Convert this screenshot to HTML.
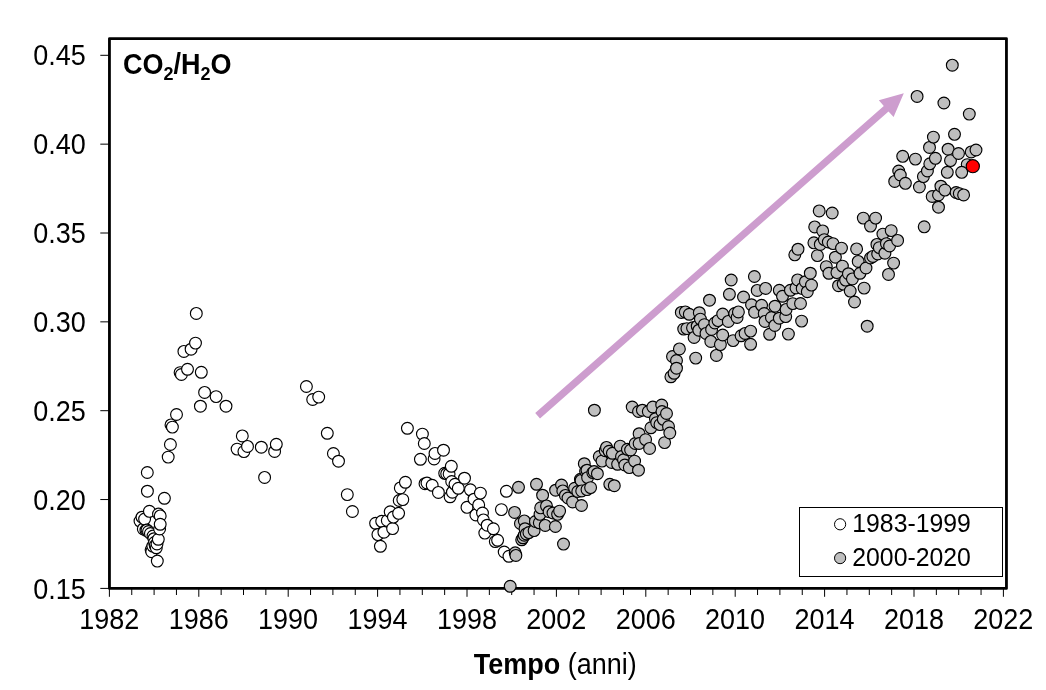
<!DOCTYPE html>
<html><head><meta charset="utf-8"><title>CO2/H2O</title>
<style>
html,body{margin:0;padding:0;background:#fff;}
body{width:1046px;height:690px;overflow:hidden;font-family:"Liberation Sans",sans-serif;}
svg{display:block;will-change:transform;}
text{font-family:"Liberation Sans",sans-serif;fill:#000;}
.w{fill:#fff;stroke:#000;stroke-width:1.15;}
.g{fill:#bfbfbf;stroke:#000;stroke-width:1.15;}
</style></head><body>
<svg width="1046" height="690" viewBox="0 0 1046 690">
<rect x="0" y="0" width="1046" height="690" fill="#fff"/>
<path d="M109.40 588V596.8 M131.75 588V595.0 M154.10 588V595.0 M176.45 588V595.0 M198.80 588V596.8 M221.15 588V595.0 M243.50 588V595.0 M265.85 588V595.0 M288.20 588V596.8 M310.55 588V595.0 M332.90 588V595.0 M355.25 588V595.0 M377.60 588V596.8 M399.95 588V595.0 M422.30 588V595.0 M444.65 588V595.0 M467.00 588V596.8 M489.35 588V595.0 M511.70 588V595.0 M534.05 588V595.0 M556.40 588V596.8 M578.75 588V595.0 M601.10 588V595.0 M623.45 588V595.0 M645.80 588V596.8 M668.15 588V595.0 M690.50 588V595.0 M712.85 588V595.0 M735.20 588V596.8 M757.55 588V595.0 M779.90 588V595.0 M802.25 588V595.0 M824.60 588V596.8 M846.95 588V595.0 M869.30 588V595.0 M891.65 588V595.0 M914.00 588V596.8 M936.35 588V595.0 M958.70 588V595.0 M981.05 588V595.0 M1003.40 588V596.8 M100.3 588.40H109 M100.3 499.55H109 M100.3 410.70H109 M100.3 321.85H109 M100.3 233.00H109 M100.3 144.15H109 M100.3 55.30H109" stroke="#000" stroke-width="1" fill="none"/>
<rect x="109.45" y="38.55" width="897" height="549.85" fill="none" stroke="#000" stroke-width="2.8" stroke-linejoin="round"/>
<text transform="translate(85.8 598.5) scale(1 1.06)" font-size="27" text-anchor="end" font-weight="normal">0.15</text>
<text transform="translate(85.8 509.6) scale(1 1.06)" font-size="27" text-anchor="end" font-weight="normal">0.20</text>
<text transform="translate(85.8 420.8) scale(1 1.06)" font-size="27" text-anchor="end" font-weight="normal">0.25</text>
<text transform="translate(85.8 331.9) scale(1 1.06)" font-size="27" text-anchor="end" font-weight="normal">0.30</text>
<text transform="translate(85.8 243.1) scale(1 1.06)" font-size="27" text-anchor="end" font-weight="normal">0.35</text>
<text transform="translate(85.8 154.2) scale(1 1.06)" font-size="27" text-anchor="end" font-weight="normal">0.40</text>
<text transform="translate(85.8 65.4) scale(1 1.06)" font-size="27" text-anchor="end" font-weight="normal">0.45</text>
<text transform="translate(109.3 629.0) scale(1 1.06)" font-size="27" text-anchor="middle" font-weight="normal">1982</text>
<text transform="translate(198.7 629.0) scale(1 1.06)" font-size="27" text-anchor="middle" font-weight="normal">1986</text>
<text transform="translate(288.1 629.0) scale(1 1.06)" font-size="27" text-anchor="middle" font-weight="normal">1990</text>
<text transform="translate(377.5 629.0) scale(1 1.06)" font-size="27" text-anchor="middle" font-weight="normal">1994</text>
<text transform="translate(466.9 629.0) scale(1 1.06)" font-size="27" text-anchor="middle" font-weight="normal">1998</text>
<text transform="translate(556.3 629.0) scale(1 1.06)" font-size="27" text-anchor="middle" font-weight="normal">2002</text>
<text transform="translate(645.7 629.0) scale(1 1.06)" font-size="27" text-anchor="middle" font-weight="normal">2006</text>
<text transform="translate(735.1 629.0) scale(1 1.06)" font-size="27" text-anchor="middle" font-weight="normal">2010</text>
<text transform="translate(824.5 629.0) scale(1 1.06)" font-size="27" text-anchor="middle" font-weight="normal">2014</text>
<text transform="translate(913.9 629.0) scale(1 1.06)" font-size="27" text-anchor="middle" font-weight="normal">2018</text>
<text transform="translate(1003.3 629.0) scale(1 1.06)" font-size="27" text-anchor="middle" font-weight="normal">2022</text>
<text transform="translate(555.3 673.6) scale(1 1.06)" font-size="27" text-anchor="middle" font-weight="normal"><tspan font-weight="bold">Tempo</tspan> (anni)</text>
<text transform="translate(123.0 73.8) scale(1 1.06)" font-size="27" text-anchor="start" font-weight="bold">CO<tspan font-size="18" dy="5.5">2</tspan><tspan dy="-5.5">/H</tspan><tspan font-size="18" dy="5.5">2</tspan><tspan dy="-5.5">O</tspan></text>
<polygon points="540.0,418.4 888.5,111.4 893.6,117.1 903.8,93.2 878.8,100.3 883.8,106.0 535.2,413.0" fill="#cd9dce"/>
<g class="w"><circle cx="140.0" cy="521.1" r="5.9"/><circle cx="142.0" cy="517.2" r="5.9"/><circle cx="143.3" cy="528.9" r="5.9"/><circle cx="144.6" cy="519.1" r="5.9"/><circle cx="145.9" cy="530.2" r="5.9"/><circle cx="147.0" cy="530.0" r="5.9"/><circle cx="147.3" cy="472.5" r="5.9"/><circle cx="147.4" cy="491.2" r="5.9"/><circle cx="148.5" cy="531.5" r="5.9"/><circle cx="149.4" cy="511.3" r="5.9"/><circle cx="150.4" cy="533.5" r="5.9"/><circle cx="151.1" cy="549.8" r="5.9"/><circle cx="151.7" cy="551.7" r="5.9"/><circle cx="152.8" cy="546.1" r="5.9"/><circle cx="153.0" cy="536.1" r="5.9"/><circle cx="153.9" cy="538.7" r="5.9"/><circle cx="154.5" cy="542.5" r="5.9"/><circle cx="155.2" cy="545.5" r="5.9"/><circle cx="156.3" cy="547.8" r="5.9"/><circle cx="157.0" cy="543.9" r="5.9"/><circle cx="157.3" cy="561.1" r="5.9"/><circle cx="158.3" cy="539.3" r="5.9"/><circle cx="158.5" cy="514.0" r="5.9"/><circle cx="159.6" cy="528.9" r="5.9"/><circle cx="160.2" cy="515.9" r="5.9"/><circle cx="160.2" cy="524.3" r="5.9"/><circle cx="164.4" cy="498.3" r="5.9"/><circle cx="168.2" cy="457.1" r="5.9"/><circle cx="170.4" cy="444.5" r="5.9"/><circle cx="171.0" cy="424.9" r="5.9"/><circle cx="172.4" cy="427.1" r="5.9"/><circle cx="176.5" cy="414.5" r="5.9"/><circle cx="180.1" cy="372.6" r="5.9"/><circle cx="181.4" cy="374.5" r="5.9"/><circle cx="183.9" cy="351.4" r="5.9"/><circle cx="187.5" cy="369.3" r="5.9"/><circle cx="191.1" cy="349.2" r="5.9"/><circle cx="195.5" cy="343.1" r="5.9"/><circle cx="196.3" cy="313.4" r="5.9"/><circle cx="200.4" cy="406.2" r="5.9"/><circle cx="201.3" cy="372.3" r="5.9"/><circle cx="204.6" cy="392.4" r="5.9"/><circle cx="216.1" cy="396.6" r="5.9"/><circle cx="226.0" cy="406.2" r="5.9"/><circle cx="237.1" cy="449.1" r="5.9"/><circle cx="242.3" cy="435.9" r="5.9"/><circle cx="243.9" cy="451.6" r="5.9"/><circle cx="247.5" cy="446.4" r="5.9"/><circle cx="261.3" cy="447.2" r="5.9"/><circle cx="264.6" cy="477.4" r="5.9"/><circle cx="274.6" cy="451.4" r="5.9"/><circle cx="276.3" cy="444.3" r="5.9"/><circle cx="306.4" cy="386.5" r="5.9"/><circle cx="312.7" cy="399.5" r="5.9"/><circle cx="318.7" cy="397.1" r="5.9"/><circle cx="327.3" cy="433.3" r="5.9"/><circle cx="333.4" cy="453.5" r="5.9"/><circle cx="338.5" cy="461.2" r="5.9"/><circle cx="347.3" cy="494.6" r="5.9"/><circle cx="352.4" cy="511.5" r="5.9"/><circle cx="375.6" cy="523.3" r="5.9"/><circle cx="377.9" cy="534.6" r="5.9"/><circle cx="380.4" cy="546.3" r="5.9"/><circle cx="381.7" cy="521.3" r="5.9"/><circle cx="383.9" cy="532.2" r="5.9"/><circle cx="387.3" cy="520.5" r="5.9"/><circle cx="390.2" cy="511.8" r="5.9"/><circle cx="392.6" cy="528.6" r="5.9"/><circle cx="393.4" cy="517.1" r="5.9"/><circle cx="398.6" cy="513.3" r="5.9"/><circle cx="399.2" cy="500.5" r="5.9"/><circle cx="400.3" cy="487.9" r="5.9"/><circle cx="402.8" cy="499.6" r="5.9"/><circle cx="405.4" cy="482.3" r="5.9"/><circle cx="407.4" cy="428.3" r="5.9"/><circle cx="420.4" cy="459.3" r="5.9"/><circle cx="422.4" cy="434.1" r="5.9"/><circle cx="424.3" cy="443.5" r="5.9"/><circle cx="425.0" cy="483.7" r="5.9"/><circle cx="427.0" cy="483.0" r="5.9"/><circle cx="432.2" cy="485.3" r="5.9"/><circle cx="434.1" cy="458.9" r="5.9"/><circle cx="435.0" cy="453.4" r="5.9"/><circle cx="438.4" cy="492.4" r="5.9"/><circle cx="443.5" cy="450.2" r="5.9"/><circle cx="444.7" cy="473.3" r="5.9"/><circle cx="446.7" cy="473.7" r="5.9"/><circle cx="449.1" cy="473.9" r="5.9"/><circle cx="450.1" cy="496.8" r="5.9"/><circle cx="451.3" cy="466.3" r="5.9"/><circle cx="451.7" cy="481.5" r="5.9"/><circle cx="452.4" cy="492.2" r="5.9"/><circle cx="455.0" cy="484.3" r="5.9"/><circle cx="458.3" cy="488.3" r="5.9"/><circle cx="464.5" cy="478.2" r="5.9"/><circle cx="467.0" cy="507.3" r="5.9"/><circle cx="470.4" cy="489.8" r="5.9"/><circle cx="474.0" cy="499.2" r="5.9"/><circle cx="475.9" cy="514.9" r="5.9"/><circle cx="478.7" cy="504.9" r="5.9"/><circle cx="480.4" cy="493.1" r="5.9"/><circle cx="482.5" cy="513.0" r="5.9"/><circle cx="483.4" cy="519.9" r="5.9"/><circle cx="484.8" cy="533.1" r="5.9"/><circle cx="487.2" cy="525.2" r="5.9"/><circle cx="493.4" cy="528.8" r="5.9"/><circle cx="495.3" cy="541.6" r="5.9"/><circle cx="497.6" cy="540.3" r="5.9"/><circle cx="501.4" cy="509.6" r="5.9"/><circle cx="504.2" cy="552.0" r="5.9"/><circle cx="506.4" cy="491.3" r="5.9"/><circle cx="508.9" cy="556.3" r="5.9"/></g>
<g class="g"><circle cx="510.2" cy="586.3" r="5.9"/><circle cx="514.6" cy="512.4" r="5.9"/><circle cx="515.2" cy="552.8" r="5.9"/><circle cx="515.9" cy="555.4" r="5.9"/><circle cx="518.5" cy="487.3" r="5.9"/><circle cx="520.4" cy="523.5" r="5.9"/><circle cx="521.7" cy="539.8" r="5.9"/><circle cx="523.0" cy="537.8" r="5.9"/><circle cx="524.3" cy="520.9" r="5.9"/><circle cx="524.3" cy="535.2" r="5.9"/><circle cx="525.0" cy="528.7" r="5.9"/><circle cx="526.3" cy="533.9" r="5.9"/><circle cx="528.9" cy="532.6" r="5.9"/><circle cx="534.1" cy="530.6" r="5.9"/><circle cx="535.4" cy="521.5" r="5.9"/><circle cx="536.5" cy="484.3" r="5.9"/><circle cx="539.3" cy="522.8" r="5.9"/><circle cx="540.0" cy="514.3" r="5.9"/><circle cx="540.7" cy="507.8" r="5.9"/><circle cx="542.6" cy="495.2" r="5.9"/><circle cx="545.2" cy="525.4" r="5.9"/><circle cx="546.5" cy="505.9" r="5.9"/><circle cx="549.1" cy="511.7" r="5.9"/><circle cx="553.0" cy="513.0" r="5.9"/><circle cx="555.4" cy="526.5" r="5.9"/><circle cx="555.6" cy="490.2" r="5.9"/><circle cx="557.6" cy="514.3" r="5.9"/><circle cx="559.6" cy="511.1" r="5.9"/><circle cx="561.5" cy="485.0" r="5.9"/><circle cx="562.8" cy="490.9" r="5.9"/><circle cx="563.5" cy="544.1" r="5.9"/><circle cx="565.4" cy="495.4" r="5.9"/><circle cx="568.0" cy="498.0" r="5.9"/><circle cx="572.6" cy="502.0" r="5.9"/><circle cx="574.6" cy="488.3" r="5.9"/><circle cx="577.8" cy="491.5" r="5.9"/><circle cx="580.4" cy="479.3" r="5.9"/><circle cx="581.1" cy="480.4" r="5.9"/><circle cx="581.5" cy="505.5" r="5.9"/><circle cx="581.7" cy="490.9" r="5.9"/><circle cx="584.3" cy="463.7" r="5.9"/><circle cx="585.6" cy="471.3" r="5.9"/><circle cx="587.0" cy="470.2" r="5.9"/><circle cx="587.0" cy="489.6" r="5.9"/><circle cx="587.6" cy="477.6" r="5.9"/><circle cx="590.6" cy="487.6" r="5.9"/><circle cx="592.8" cy="472.6" r="5.9"/><circle cx="594.1" cy="471.5" r="5.9"/><circle cx="594.4" cy="410.2" r="5.9"/><circle cx="597.4" cy="473.7" r="5.9"/><circle cx="599.3" cy="456.5" r="5.9"/><circle cx="602.0" cy="461.1" r="5.9"/><circle cx="605.2" cy="450.7" r="5.9"/><circle cx="606.5" cy="447.4" r="5.9"/><circle cx="609.1" cy="451.3" r="5.9"/><circle cx="609.8" cy="484.3" r="5.9"/><circle cx="611.7" cy="462.4" r="5.9"/><circle cx="612.4" cy="453.3" r="5.9"/><circle cx="614.3" cy="485.7" r="5.9"/><circle cx="617.6" cy="464.3" r="5.9"/><circle cx="620.2" cy="446.1" r="5.9"/><circle cx="621.5" cy="456.5" r="5.9"/><circle cx="623.5" cy="459.8" r="5.9"/><circle cx="624.8" cy="465.0" r="5.9"/><circle cx="627.4" cy="449.3" r="5.9"/><circle cx="629.3" cy="467.6" r="5.9"/><circle cx="630.6" cy="450.0" r="5.9"/><circle cx="632.2" cy="407.0" r="5.9"/><circle cx="634.6" cy="461.1" r="5.9"/><circle cx="635.2" cy="443.5" r="5.9"/><circle cx="638.5" cy="411.5" r="5.9"/><circle cx="638.5" cy="470.2" r="5.9"/><circle cx="639.1" cy="433.7" r="5.9"/><circle cx="639.1" cy="443.5" r="5.9"/><circle cx="642.4" cy="410.2" r="5.9"/><circle cx="645.6" cy="439.6" r="5.9"/><circle cx="648.3" cy="411.5" r="5.9"/><circle cx="649.6" cy="448.4" r="5.9"/><circle cx="650.9" cy="427.8" r="5.9"/><circle cx="652.8" cy="407.0" r="5.9"/><circle cx="655.4" cy="418.7" r="5.9"/><circle cx="656.7" cy="422.6" r="5.9"/><circle cx="660.0" cy="424.6" r="5.9"/><circle cx="661.7" cy="405.0" r="5.9"/><circle cx="662.0" cy="411.5" r="5.9"/><circle cx="663.3" cy="419.3" r="5.9"/><circle cx="664.6" cy="442.6" r="5.9"/><circle cx="666.5" cy="413.5" r="5.9"/><circle cx="668.5" cy="426.5" r="5.9"/><circle cx="669.8" cy="433.0" r="5.9"/><circle cx="670.9" cy="376.8" r="5.9"/><circle cx="672.5" cy="356.5" r="5.9"/><circle cx="674.1" cy="373.3" r="5.9"/><circle cx="676.5" cy="360.5" r="5.9"/><circle cx="676.5" cy="368.2" r="5.9"/><circle cx="679.4" cy="348.9" r="5.9"/><circle cx="681.3" cy="312.4" r="5.9"/><circle cx="683.7" cy="329.1" r="5.9"/><circle cx="685.3" cy="311.9" r="5.9"/><circle cx="686.9" cy="328.6" r="5.9"/><circle cx="689.3" cy="314.3" r="5.9"/><circle cx="692.5" cy="327.8" r="5.9"/><circle cx="694.1" cy="337.4" r="5.9"/><circle cx="695.7" cy="358.1" r="5.9"/><circle cx="697.2" cy="326.2" r="5.9"/><circle cx="698.8" cy="330.2" r="5.9"/><circle cx="699.3" cy="312.7" r="5.9"/><circle cx="700.4" cy="319.1" r="5.9"/><circle cx="704.4" cy="324.6" r="5.9"/><circle cx="706.0" cy="333.4" r="5.9"/><circle cx="709.5" cy="300.2" r="5.9"/><circle cx="710.8" cy="341.4" r="5.9"/><circle cx="711.6" cy="329.4" r="5.9"/><circle cx="714.8" cy="323.0" r="5.9"/><circle cx="716.4" cy="355.4" r="5.9"/><circle cx="718.0" cy="320.6" r="5.9"/><circle cx="720.4" cy="344.6" r="5.9"/><circle cx="722.7" cy="314.0" r="5.9"/><circle cx="722.7" cy="335.0" r="5.9"/><circle cx="728.3" cy="321.4" r="5.9"/><circle cx="729.4" cy="294.3" r="5.9"/><circle cx="731.2" cy="280.0" r="5.9"/><circle cx="733.1" cy="340.6" r="5.9"/><circle cx="734.7" cy="313.5" r="5.9"/><circle cx="737.1" cy="317.5" r="5.9"/><circle cx="738.4" cy="311.9" r="5.9"/><circle cx="741.1" cy="335.8" r="5.9"/><circle cx="743.5" cy="297.0" r="5.9"/><circle cx="745.1" cy="333.4" r="5.9"/><circle cx="750.6" cy="331.1" r="5.9"/><circle cx="750.6" cy="344.3" r="5.9"/><circle cx="751.5" cy="304.7" r="5.9"/><circle cx="754.4" cy="276.5" r="5.9"/><circle cx="754.6" cy="312.2" r="5.9"/><circle cx="757.2" cy="290.4" r="5.9"/><circle cx="761.6" cy="305.3" r="5.9"/><circle cx="764.2" cy="313.5" r="5.9"/><circle cx="765.0" cy="321.4" r="5.9"/><circle cx="765.6" cy="288.4" r="5.9"/><circle cx="769.6" cy="334.3" r="5.9"/><circle cx="771.4" cy="317.5" r="5.9"/><circle cx="774.8" cy="325.4" r="5.9"/><circle cx="775.0" cy="306.2" r="5.9"/><circle cx="779.3" cy="290.3" r="5.9"/><circle cx="779.3" cy="318.2" r="5.9"/><circle cx="782.5" cy="296.3" r="5.9"/><circle cx="785.7" cy="316.6" r="5.9"/><circle cx="786.1" cy="309.4" r="5.9"/><circle cx="788.4" cy="334.1" r="5.9"/><circle cx="790.4" cy="290.3" r="5.9"/><circle cx="792.8" cy="303.6" r="5.9"/><circle cx="794.8" cy="254.8" r="5.9"/><circle cx="796.0" cy="287.9" r="5.9"/><circle cx="797.6" cy="279.9" r="5.9"/><circle cx="798.0" cy="249.2" r="5.9"/><circle cx="800.5" cy="303.5" r="5.9"/><circle cx="801.6" cy="321.1" r="5.9"/><circle cx="802.2" cy="288.4" r="5.9"/><circle cx="805.4" cy="281.7" r="5.9"/><circle cx="807.3" cy="291.7" r="5.9"/><circle cx="810.3" cy="273.2" r="5.9"/><circle cx="811.5" cy="285.1" r="5.9"/><circle cx="813.9" cy="242.8" r="5.9"/><circle cx="814.7" cy="226.9" r="5.9"/><circle cx="817.4" cy="255.6" r="5.9"/><circle cx="819.2" cy="210.9" r="5.9"/><circle cx="820.3" cy="244.4" r="5.9"/><circle cx="822.7" cy="230.9" r="5.9"/><circle cx="824.3" cy="239.6" r="5.9"/><circle cx="826.3" cy="266.6" r="5.9"/><circle cx="828.3" cy="242.0" r="5.9"/><circle cx="828.9" cy="273.3" r="5.9"/><circle cx="832.2" cy="213.0" r="5.9"/><circle cx="833.0" cy="243.6" r="5.9"/><circle cx="835.4" cy="257.2" r="5.9"/><circle cx="836.9" cy="272.6" r="5.9"/><circle cx="838.5" cy="285.7" r="5.9"/><circle cx="841.5" cy="248.1" r="5.9"/><circle cx="842.4" cy="266.1" r="5.9"/><circle cx="843.2" cy="284.1" r="5.9"/><circle cx="845.6" cy="280.1" r="5.9"/><circle cx="848.4" cy="273.7" r="5.9"/><circle cx="850.2" cy="291.1" r="5.9"/><circle cx="852.4" cy="278.9" r="5.9"/><circle cx="854.5" cy="302.0" r="5.9"/><circle cx="856.6" cy="248.9" r="5.9"/><circle cx="858.2" cy="261.4" r="5.9"/><circle cx="860.0" cy="273.3" r="5.9"/><circle cx="863.3" cy="218.1" r="5.9"/><circle cx="864.1" cy="288.1" r="5.9"/><circle cx="866.0" cy="268.0" r="5.9"/><circle cx="867.2" cy="326.2" r="5.9"/><circle cx="870.5" cy="226.1" r="5.9"/><circle cx="870.5" cy="258.0" r="5.9"/><circle cx="872.9" cy="256.4" r="5.9"/><circle cx="875.6" cy="218.1" r="5.9"/><circle cx="876.9" cy="244.4" r="5.9"/><circle cx="877.7" cy="254.0" r="5.9"/><circle cx="879.3" cy="247.6" r="5.9"/><circle cx="882.9" cy="234.1" r="5.9"/><circle cx="884.9" cy="253.2" r="5.9"/><circle cx="886.4" cy="243.6" r="5.9"/><circle cx="888.5" cy="274.4" r="5.9"/><circle cx="889.6" cy="246.0" r="5.9"/><circle cx="891.2" cy="230.6" r="5.9"/><circle cx="893.6" cy="263.1" r="5.9"/><circle cx="894.7" cy="181.4" r="5.9"/><circle cx="897.6" cy="240.4" r="5.9"/><circle cx="898.7" cy="171.0" r="5.9"/><circle cx="900.3" cy="175.0" r="5.9"/><circle cx="902.7" cy="156.3" r="5.9"/><circle cx="905.4" cy="183.3" r="5.9"/><circle cx="915.4" cy="159.1" r="5.9"/><circle cx="917.1" cy="96.4" r="5.9"/><circle cx="919.4" cy="187.0" r="5.9"/><circle cx="923.4" cy="176.6" r="5.9"/><circle cx="924.2" cy="226.8" r="5.9"/><circle cx="927.4" cy="171.0" r="5.9"/><circle cx="929.5" cy="147.4" r="5.9"/><circle cx="929.8" cy="163.8" r="5.9"/><circle cx="932.2" cy="196.5" r="5.9"/><circle cx="933.4" cy="137.1" r="5.9"/><circle cx="935.4" cy="158.3" r="5.9"/><circle cx="938.5" cy="194.9" r="5.9"/><circle cx="938.5" cy="207.2" r="5.9"/><circle cx="940.9" cy="186.2" r="5.9"/><circle cx="943.9" cy="103.0" r="5.9"/><circle cx="944.9" cy="190.1" r="5.9"/><circle cx="947.3" cy="172.3" r="5.9"/><circle cx="948.1" cy="149.2" r="5.9"/><circle cx="950.5" cy="160.6" r="5.9"/><circle cx="952.3" cy="65.2" r="5.9"/><circle cx="954.5" cy="134.3" r="5.9"/><circle cx="956.1" cy="192.5" r="5.9"/><circle cx="958.5" cy="153.5" r="5.9"/><circle cx="959.3" cy="193.6" r="5.9"/><circle cx="967.2" cy="164.6" r="5.9"/><circle cx="961.7" cy="172.3" r="5.9"/><circle cx="963.6" cy="194.9" r="5.9"/><circle cx="969.3" cy="114.1" r="5.9"/><circle cx="971.2" cy="151.9" r="5.9"/><circle cx="976.0" cy="150.0" r="5.9"/></g>
<circle cx="972.8" cy="166.2" r="6.6" fill="#ff0000" stroke="#000" stroke-width="1.15"/>
<rect x="799.5" y="507.5" width="203" height="69" fill="#fff" stroke="#000" stroke-width="1"/>
<circle class="w" cx="840.1" cy="524.3" r="5.6" style="stroke-width:1"/><circle class="g" cx="840.1" cy="558.1" r="5.6" style="stroke-width:1"/>
<text transform="translate(852.3 531.5) scale(1 1.026)" font-size="24.8" text-anchor="start" font-weight="normal">1983-1999</text>
<text transform="translate(852.3 565.8) scale(1 1.026)" font-size="24.8" text-anchor="start" font-weight="normal">2000-2020</text>
</svg></body></html>
